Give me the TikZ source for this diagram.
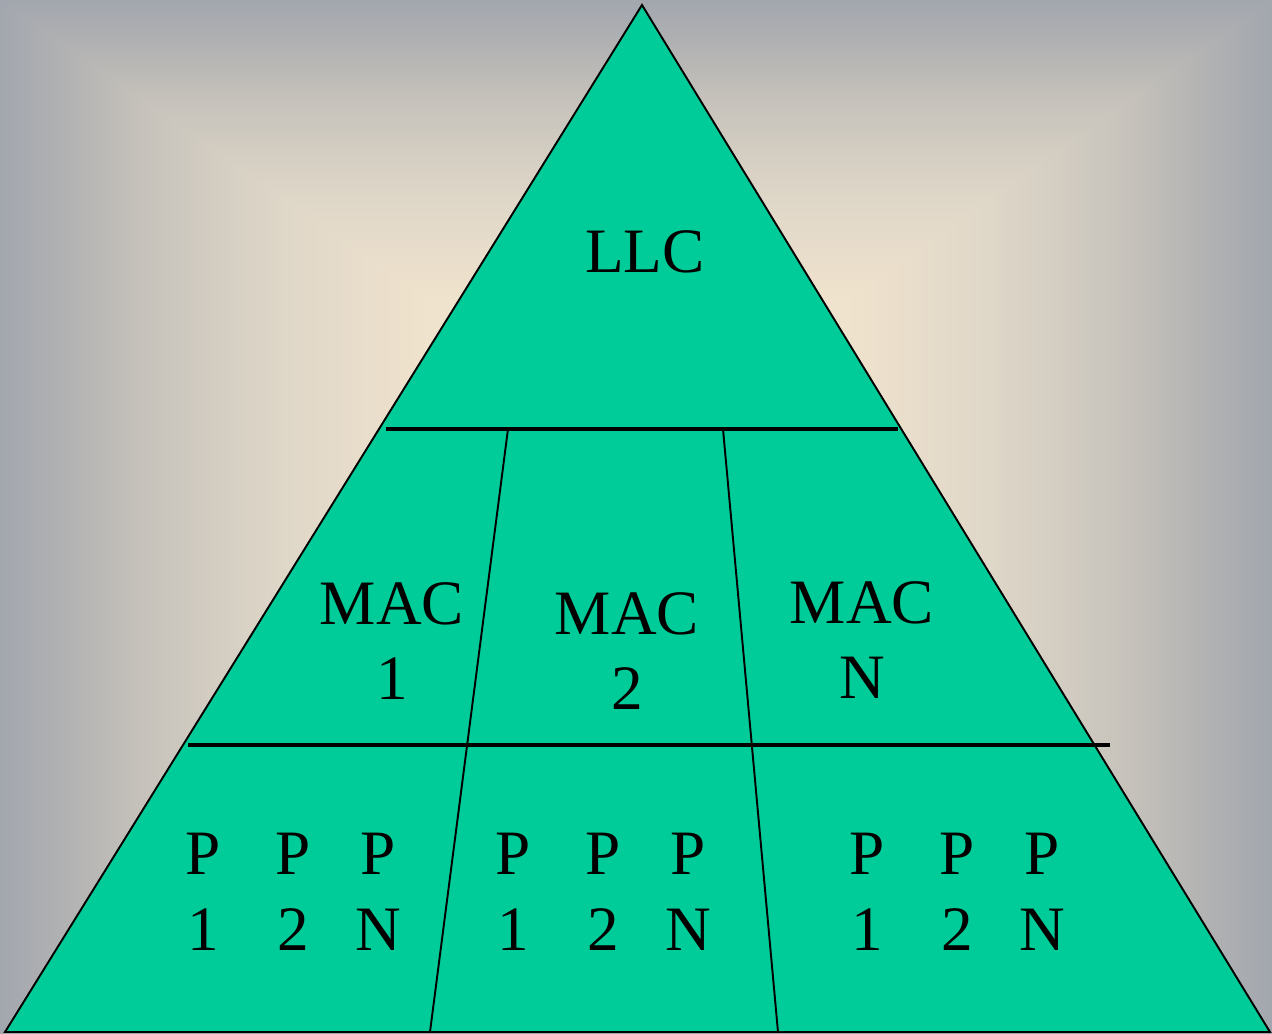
\documentclass[tikz,border=0pt]{standalone}
\usepackage{fontspec}
\setmainfont{Liberation Serif}

\definecolor{layergreen}{HTML}{00CC99}
\definecolor{plateau}{HTML}{F0E3CD}

% ramp from the grey border (left) to the cream centre (right);
% 25bp..75bp is what gets mapped onto the filled path
\pgfdeclarehorizontalshading{ramp}{100bp}{%
  color(0bp)=(rgb,255:red,162;green,166;blue,174);
  color(25bp)=(rgb,255:red,162;green,166;blue,174);
  color(33.3bp)=(rgb,255:red,179;green,179;blue,179);
  color(41.7bp)=(rgb,255:red,198;green,194;blue,187);
  color(50bp)=(rgb,255:red,211;green,205;blue,194);
  color(58.3bp)=(rgb,255:red,223;green,215;blue,200);
  color(66.7bp)=(rgb,255:red,232;green,221;blue,203);
  color(75bp)=(rgb,255:red,240;green,227;blue,205);
  color(100bp)=(rgb,255:red,240;green,227;blue,205)}

\tikzset{
  ramp/.style={shading=ramp, shading angle=#1},
  thinrule/.style={draw=black, line width=1.1pt},
  layerrule/.style={draw=black, line width=2.4pt},
  label/.style={inner sep=0pt, align=center, text=black,
    font=\fontsize{36}{43}\selectfont},
}

\begin{document}
\begin{tikzpicture}[x=0.02cm, y=-0.02cm]
  \useasboundingbox (0,0) rectangle (1272,1034);

  % backdrop: rectangular gradient, cream plateau fading to grey borders
  \coordinate (c1) at (430,300);
  \coordinate (c2) at (845,300);
  \coordinate (c3) at (845,734);
  \coordinate (c4) at (430,734);
  \fill[plateau] (c1) rectangle (c3);
  % full-height side strips underneath, so the diagonal joins stay seamless
  \shade[ramp=0]   (0,0) rectangle (c4 |- 0,1034);
  \shade[ramp=180] (1272,0) rectangle (c3 |- 0,1034);
  \shade[ramp=-90] (0,0) -- (1272,0) -- (c2) -- (c1) -- cycle;
  \shade[ramp=90]  (0,1034) -- (c4) -- (c3) -- (1272,1034) -- cycle;

  % corners of the pyramid
  \coordinate (apex) at (642,5);
  \coordinate (bl) at (5,1032);
  \coordinate (br) at (1270,1032);

  % layer boundaries
  \coordinate (llcL) at (386,429);
  \coordinate (llcR) at (898,429);
  \coordinate (macL) at (188,745);
  \coordinate (macR) at (1110,745);

  % column boundaries
  \coordinate (d1top) at (508,429);
  \coordinate (d1bot) at (430,1032);
  \coordinate (d2top) at (723,429);
  \coordinate (d2bot) at (778,1032);

  \filldraw[fill=layergreen, thinrule, line join=miter] (apex) -- (bl) -- (br) -- cycle;
  \draw[thinrule] (d1top) -- (d1bot);
  \draw[thinrule] (d2top) -- (d2bot);
  \draw[layerrule] (llcL) -- (llcR);
  \draw[layerrule] (macL) -- (macR);

  % labels
  \node[label] (llc) at (645,252) {LLC};
  \node[label] (mac1) at (392,641) {MAC\\1};
  \node[label] (mac2) at (627,651) {MAC\\2};
  \node[label] (macn) at (862,640) {MAC\\N};

  \node[label] (p11) at (203,892) {P\\1};
  \node[label] (p12) at (293,892) {P\\2};
  \node[label] (p1n) at (378,892) {P\\N};
  \node[label] (p21) at (513,892) {P\\1};
  \node[label] (p22) at (603,892) {P\\2};
  \node[label] (p2n) at (688,892) {P\\N};
  \node[label] (p31) at (867,892) {P\\1};
  \node[label] (p32) at (957,892) {P\\2};
  \node[label] (p3n) at (1042,892) {P\\N};
\end{tikzpicture}
\end{document}
